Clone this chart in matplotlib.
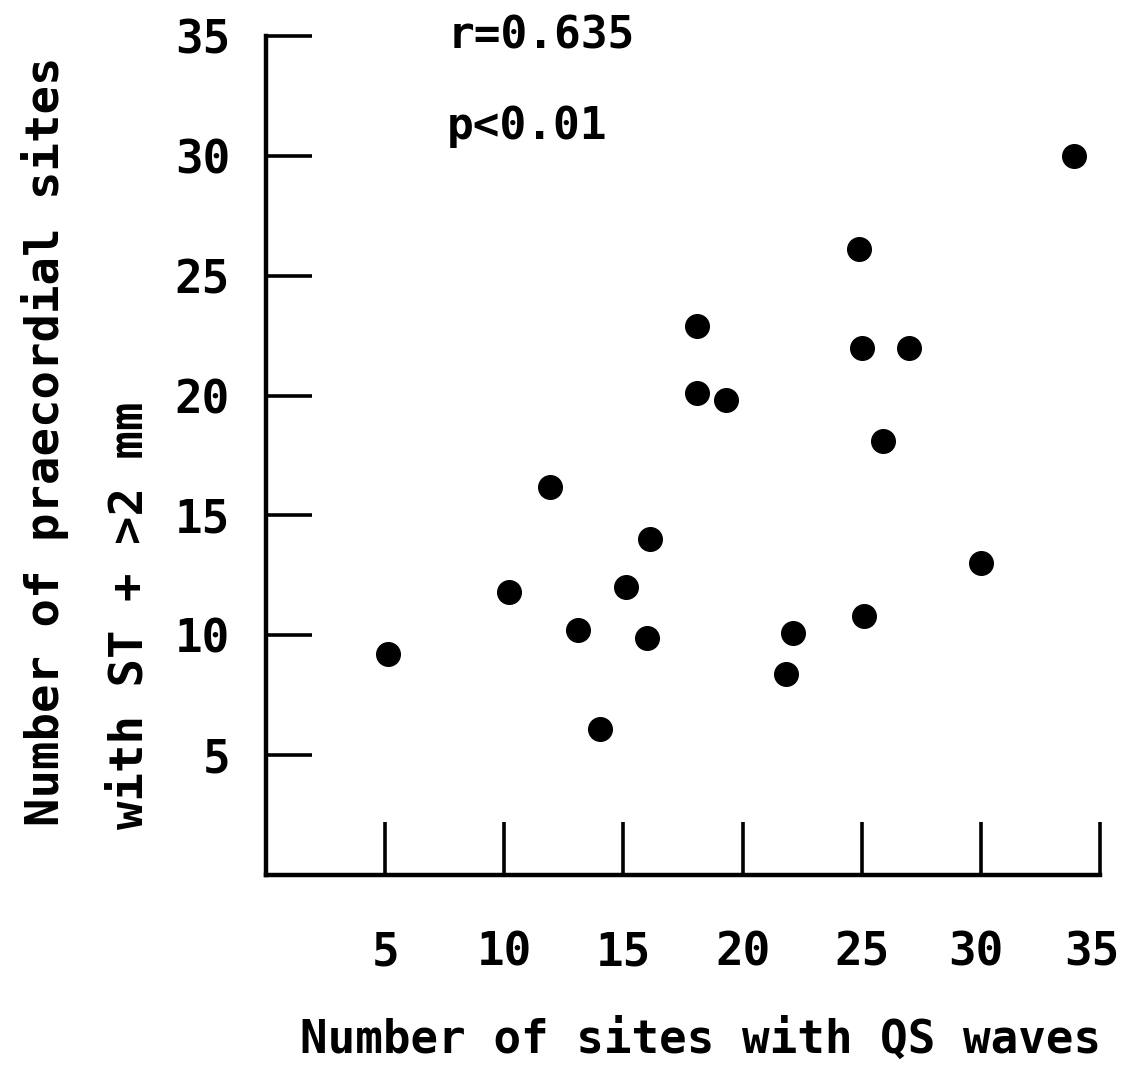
import matplotlib.pyplot as plt
import matplotlib.transforms as mtransforms

plt.rcParams["font.family"] = ["DejaVu Sans Mono"]
plt.rcParams["font.weight"] = "bold"

# number of sites with QS waves
qs_sites = [5.1, 10.2, 11.9, 13.1, 14.0, 15.1, 16.1, 16.0, 18.1, 18.1,
            19.3, 21.8, 22.1, 24.9, 25.0, 25.1, 25.9, 27.0, 30.0, 33.9]

# number of praecordial sites with ST elevation > 2 mm
st_sites = [9.2, 11.8, 16.2, 10.2, 6.1, 12.0, 14.0, 9.9, 22.9, 20.1,
            19.8, 8.4, 10.1, 26.1, 22.0, 10.8, 18.1, 22.0, 13.0, 30.0]

xticks = [5, 10, 15, 20, 25, 30, 35]
yticks = [5, 10, 15, 20, 25, 30, 35]

r_text = "r=0.635"
p_text = "p<0.01"


def draw_axes(fig, ax):

    for side in ["top", "right"]:
        ax.spines[side].set_visible(False)

    for side in ["left", "bottom"]:
        ax.spines[side].set_linewidth(3.2)
        ax.spines[side].set_color("black")

    ax.set_xlim(0, 35)
    ax.set_ylim(0, 35)

    ax.set_xticks(xticks)
    ax.set_yticks(yticks)

    ax.tick_params(
        axis = "x",
        direction = "in",
        length = 38,
        width = 2.6,
        pad = 40,
        labelsize = 33
        )

    ax.tick_params(
        axis = "y",
        direction = "in",
        length = 33,
        width = 2.6,
        pad = 26,
        labelsize = 33
        )

    # the last two labels sit a little left of their ticks in the scan
    labels = ax.get_xticklabels()
    for label, dx in zip(labels[-2:], [-0.05, -0.08]):
        shift = mtransforms.ScaledTranslation(dx, 0, fig.dpi_scale_trans)
        label.set_transform(label.get_transform() + shift)


def main():

    fig = plt.figure(figsize = (11.24, 10.87), dpi = 100)
    ax = fig.add_axes([0.2367, 0.195, 0.742, 0.772])

    ax.plot(
        qs_sites, st_sites,
        linestyle = "none",
        marker = "o",
        markersize = 17,
        color = "black",
        clip_on = False
        )

    draw_axes(fig, ax)

    ax.text(7.6, 35.0, r_text, fontsize = 32, va = "center")
    ax.text(7.6, 31.2, p_text, fontsize = 32, va = "center")

    fig.text(
        0.623, 0.043, "Number of sites with QS waves",
        fontsize = 33, ha = "center", va = "center"
        )

    fig.text(
        0.040, 0.240, "Number of praecordial sites",
        fontsize = 34, rotation = 90, ha = "center", va = "bottom"
        )
    fig.text(
        0.116, 0.237, "with ST + >2 mm",
        fontsize = 34, rotation = 90, ha = "center", va = "bottom"
        )

    fig.savefig("out.png", dpi = 100)


main()
